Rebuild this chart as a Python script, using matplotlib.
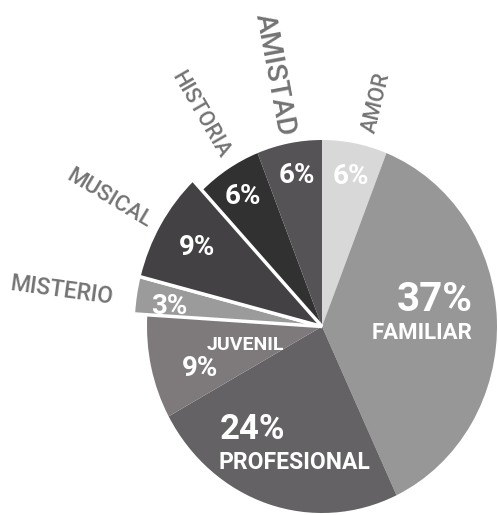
import numpy as np
import matplotlib.pyplot as plt

# slices, clockwise from 12 o'clock
categories = ['AMOR', 'FAMILIAR', 'PROFESIONAL', 'JUVENIL', 'MISTERIO', 'MUSICAL', 'HISTORIA', 'AMISTAD']
values = [6, 37, 24, 9, 3, 9, 6, 6]
colors = ['#d8d8d8', '#979797', '#646264', '#7e7a7c', '#9b9b9b', '#434143', '#323132', '#555355']
highlight = ['MISTERIO', 'MUSICAL']

# label names shown outside the pie vs inside
outside = ['AMOR', 'AMISTAD', 'HISTORIA', 'MUSICAL', 'MISTERIO']
inside = ['FAMILIAR', 'PROFESIONAL', 'JUVENIL']

plt.rcParams['font.family'] = ['Roboto', 'DejaVu Sans']

fig = plt.figure(figsize=(4.98, 5.15), dpi=100)
ax = fig.add_axes([0, 0, 1, 1])

wedges, _ = ax.pie(values, colors=colors, startangle=90, counterclock=False,
                   radius=1.0, wedgeprops=dict(linewidth=0))
for w, cat in zip(wedges, categories):
    if cat in highlight:
        w.set_radius(1.08)
        w.set_edgecolor('white')
        w.set_linewidth(2.5)
        w.set_zorder(3)

# pixel stretch of the scanned pie
rx, ry = 175.0, 186.5
ax.set_aspect('auto')
ax.set_xlim(-322 / rx, 176 / rx)
ax.set_ylim(-188.5 / ry, 326.5 / ry)
ax.axis('off')

# mid angle of every slice (math degrees)
total = float(sum(values))
cum = np.cumsum([0] + values)
mids = [90 - 360 * (cum[i] + values[i] / 2) / total for i in range(len(values))]

def polar(ang, r):
    a = np.radians(ang)
    return r * np.cos(a), r * np.sin(a)

# percent labels: radius and angle nudge per slice
pct_r = [0.82, 0.66, 0.68, 0.73, 0.88, 0.83, 0.83, 0.82]
pct_da = [-0.8, 10.7, -17.6, 5.4, 2.1, -0.2, 0.4, -0.8]
pct_fs = [20, 29, 25, 20, 20, 20, 20, 20]
for i, cat in enumerate(categories):
    x, y = polar(mids[i] + pct_da[i], pct_r[i])
    ax.text(x, y, '%d%%' % values[i], color='white', fontsize=pct_fs[i],
            fontweight='bold', ha='center', va='center', zorder=5)

# names inside the pie
in_r = {'FAMILIAR': 0.572, 'PROFESIONAL': 0.744, 'JUVENIL': 0.452}
in_da = {'FAMILIAR': -5.3, 'PROFESIONAL': 5.6, 'JUVENIL': 0.4}
in_fs = {'FAMILIAR': 16, 'PROFESIONAL': 16.5, 'JUVENIL': 14}
for cat in inside:
    i = categories.index(cat)
    x, y = polar(mids[i] + in_da[cat], in_r[cat])
    ax.text(x, y, cat, color='white', fontsize=in_fs[cat], fontweight='bold',
            ha='center', va='center', zorder=5)

# names outside the pie, rotated along the radius
out_r = {'AMOR': 1.24, 'AMISTAD': 1.375, 'HISTORIA': 1.33, 'MUSICAL': 1.40, 'MISTERIO': 1.50}
out_da = {'AMOR': -3.8, 'AMISTAD': 0.5, 'HISTORIA': -0.8, 'MUSICAL': 1.2, 'MISTERIO': 1.7}
out_fs = {'AMOR': 15.5, 'AMISTAD': 20.5, 'HISTORIA': 15.5, 'MUSICAL': 16, 'MISTERIO': 16.5}
for cat in outside:
    i = categories.index(cat)
    ang = mids[i] + out_da[cat]
    x, y = polar(ang, out_r[cat])
    rot = np.degrees(np.arctan2(np.sin(np.radians(ang)) * ry, np.cos(np.radians(ang)) * rx))
    if rot > 90:
        rot -= 180
    ax.text(x, y, cat, color='#737373', fontsize=out_fs[cat], fontweight='medium',
            rotation=rot, rotation_mode='anchor', ha='center', va='center')

plt.savefig('out.png', dpi=100)
